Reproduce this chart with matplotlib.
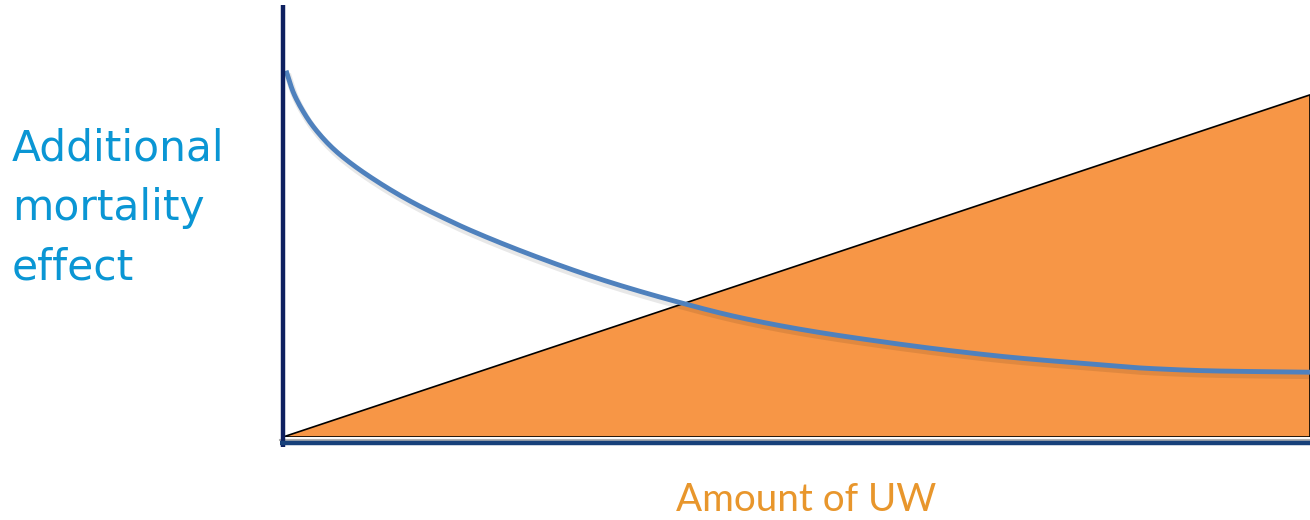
import numpy as np
import matplotlib
matplotlib.use('Agg')
import matplotlib.pyplot as plt

# amount of UW (x) vs additional mortality effect (y), both on a 0-100 scale
curveX = [0.3, 1.0, 2.0, 2.9, 4.6, 6.2, 9.4, 12.7, 16.0, 18.2, 24.7, 31.2, 39.0, 44.2, 50.7,
          59.1, 64.6, 71.1, 77.6, 84.1, 90.6, 100.0]
curveY = [84.8, 79.8, 75.2, 72.0, 67.4, 64.1, 58.8, 54.2, 50.3, 47.9, 41.7, 36.3, 30.9, 27.8, 24.8,
          21.8, 20.1, 18.4, 17.1, 15.9, 15.3, 15.0]

# triangle = growing UW cost area
triX = [0.0, 100.0, 100.0]
triY = [0.0, 79.2, 0.0]

yLabel = 'Additional\nmortality\neffect'
xLabel = 'Amount of UW'


def monotoneCubic(px, py, n=600):
  # Fritsch-Carlson, keeps the read points smooth without overshoot
  x = np.asarray(px, dtype=float)
  y = np.asarray(py, dtype=float)
  h = np.diff(x)
  d = np.diff(y)/h
  m = np.zeros_like(y)
  m[0] = d[0]
  m[-1] = d[-1]
  for i in range(1, len(x)-1):
    if d[i-1]*d[i] <= 0:
      m[i] = 0.0
    else:
      w1 = 2*h[i] + h[i-1]
      w2 = h[i] + 2*h[i-1]
      m[i] = (w1 + w2)/(w1/d[i-1] + w2/d[i])
  xs = np.linspace(x[0], x[-1], n)
  idx = np.clip(np.searchsorted(x, xs) - 1, 0, len(x)-2)
  t = (xs - x[idx])/h[idx]
  h00 = 2*t**3 - 3*t**2 + 1
  h10 = t**3 - 2*t**2 + t
  h01 = -2*t**3 + 3*t**2
  h11 = t**3 - t**2
  ys = h00*y[idx] + h10*h[idx]*m[idx] + h01*y[idx+1] + h11*h[idx]*m[idx+1]
  return xs, ys


fig = plt.figure(figsize=(13.1, 5.2), dpi=100)
ax = fig.add_axes([283/1310., 83/520., 1.0-283/1310., 432/520.])
ax.set_xlim(0, 100)
ax.set_ylim(0, 100)
for s in ax.spines.values():
  s.set_visible(False)
ax.set_xticks([])
ax.set_yticks([])

ax.fill(triX, triY, facecolor='#f79646', edgecolor='black', linewidth=1.2, zorder=1)

xs, ys = monotoneCubic(curveX, curveY)
# soft shadow under the curve
ax.plot(xs+0.15, ys-0.8, color='black', alpha=0.09, linewidth=5, zorder=2, solid_capstyle='butt')
ax.plot(xs, ys, color='#4f81bd', linewidth=3.5, zorder=3, solid_capstyle='butt')

# axes lines drawn by hand
ax.plot([0, 0], [-0.022, 1.0], transform=ax.transAxes, color='#0e2060',
        linewidth=3.2, clip_on=False, zorder=5, solid_capstyle='butt')
ax.plot([-0.003, 1.0], [-0.007, -0.007], transform=ax.transAxes, color='#b0b0b0',
        linewidth=1.5, clip_on=False, zorder=4)
ax.plot([-0.003, 1.0], [-0.0145, -0.0145], transform=ax.transAxes, color='#17407a',
        linewidth=3.2, clip_on=False, zorder=5, solid_capstyle='butt')

fig.text(12/1310., 1-208/520., yLabel, color='#0a96d4', fontsize=30.5,
         family='DejaVu Sans', ha='left', va='center', linespacing=1.52)
fig.text(806/1310., 1-500/520., xLabel, color='#e8962c', fontsize=27.8,
         family='Lato', ha='center', va='center')

fig.savefig('out.png', dpi=100)
